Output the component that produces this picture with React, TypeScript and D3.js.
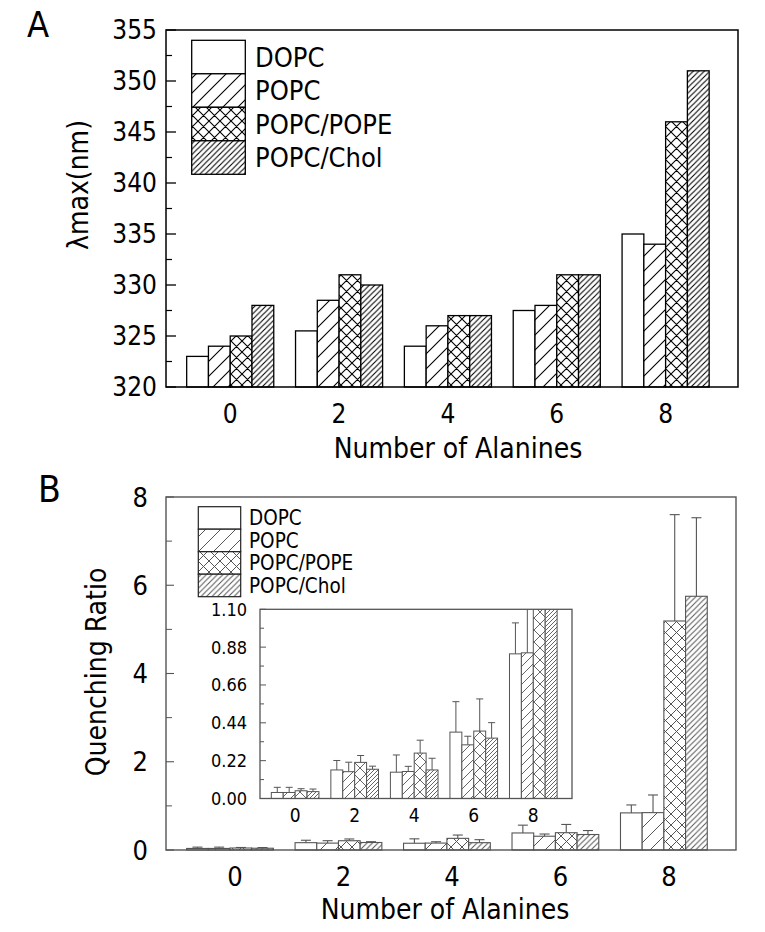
import React from 'react';
import * as d3 from 'd3';

const groups = [0, 2, 4, 6, 8];
const seriesNames = ['DOPC', 'POPC', 'POPC/POPE', 'POPC/Chol'];

// Panel A: lambda max (nm)
const lambdaDOPC = [323, 325.5, 324, 327.5, 335];
const lambdaPOPC = [324, 328.5, 326, 328, 334];
const lambdaPOPE = [325, 331, 327, 331, 346];
const lambdaChol = [328, 330, 327, 331, 351];
const lambdaTicks = [320, 325, 330, 335, 340, 345, 350, 355];

// Panel B: quenching ratio (value, upper error)
const qDOPC = [0.035, 0.166, 0.153, 0.386, 0.841];
const qPOPC = [0.035, 0.156, 0.157, 0.312, 0.847];
const qPOPE = [0.045, 0.21, 0.264, 0.392, 5.19];
const qChol = [0.04, 0.17, 0.166, 0.351, 5.75];
const eDOPC = [0.03, 0.055, 0.1, 0.177, 0.18];
const ePOPC = [0.03, 0.055, 0.03, 0.05, 0.4];
const ePOPE = [0.012, 0.04, 0.075, 0.187, 2.41];
const eChol = [0.015, 0.018, 0.068, 0.09, 1.78];
const qTicks = [0, 2, 4, 6, 8];
const insetTicks = [0, 0.22, 0.44, 0.66, 0.88, 1.1];

const lambdaSeries = [lambdaDOPC, lambdaPOPC, lambdaPOPE, lambdaChol];
const qSeries = [qDOPC, qPOPC, qPOPE, qChol];
const eSeries = [eDOPC, ePOPC, ePOPE, eChol];

const FONT = "'DejaVu Sans Condensed', 'DejaVu Sans', sans-serif";
const BAR = 0.4; // bar width in x units

const diag = (s: number) =>
  `M${-s / 2},${s / 2} L${s / 2},${-s / 2} M0,${s} L${s},0 M${s / 2},${s * 1.5} L${s * 1.5},${s / 2}`;
const anti = (s: number) =>
  `M${-s / 2},${s / 2} L${s / 2},${s * 1.5} M0,0 L${s},${s} M${s / 2},${-s / 2} L${s * 1.5},${s / 2}`;

function PatternSet({ id, color, sw, s1, s2, s3 }: any) {
  return (
    <>
      <pattern id={`${id}-0`} patternUnits="userSpaceOnUse" width={4} height={4}>
        <rect width={4} height={4} fill="white" />
      </pattern>
      <pattern id={`${id}-1`} patternUnits="userSpaceOnUse" width={s1} height={s1}>
        <rect width={s1} height={s1} fill="white" />
        <path d={diag(s1)} stroke={color} strokeWidth={sw} />
      </pattern>
      <pattern id={`${id}-2`} patternUnits="userSpaceOnUse" width={s2} height={s2}>
        <rect width={s2} height={s2} fill="white" />
        <path d={diag(s2) + anti(s2)} stroke={color} strokeWidth={sw} />
      </pattern>
      <pattern id={`${id}-3`} patternUnits="userSpaceOnUse" width={s3} height={s3}>
        <rect width={s3} height={s3} fill="white" />
        <path d={diag(s3)} stroke={color} strokeWidth={sw} />
      </pattern>
    </>
  );
}

export default function App() {
  // Panel A scales
  const xA = d3.scaleLinear().domain([-1.18, 9.33]).range([166, 738]);
  const yA = d3.scaleLinear().domain([320, 355]).range([387, 30]);
  // Panel B scales
  const xB = d3.scaleLinear().domain([-1.18, 9.33]).range([166, 736]);
  const yB = d3.scaleLinear().domain([0, 8]).range([850, 497]);
  // Inset scales
  const xI = d3.scaleLinear().domain([-1.18, 9.3]).range([260, 572]);
  const yI = d3.scaleLinear().domain([0, 1.1]).range([798.5, 609.3]);

  const lambdaMinor = d3.pairs(lambdaTicks).map(([a, b]) => (a + b) / 2);
  const qMinor = d3.pairs(qTicks).map(([a, b]) => (a + b) / 2);
  const insetMinor = d3.pairs(insetTicks).map(([a, b]) => (a + b) / 2);

  const gray = '#555';

  const barX = (g: number, i: number, sc: any) => sc(g - 2 * BAR + i * BAR);
  const barW = (sc: any) => sc(BAR) - sc(0);

  return (
    <svg
      width={765}
      height={932}
      style={{ position: 'absolute', left: 0, top: 0, background: 'white' }}
      fontFamily={FONT}
    >
      <defs>
        <PatternSet id="pa" color="#000" sw={1.1} s1={15} s2={11} s3={5.5} />
        <PatternSet id="pb" color={gray} sw={1} s1={15} s2={11} s3={5.5} />
        <PatternSet id="pi" color={gray} sw={0.9} s1={9} s2={12} s3={4} />
        <clipPath id="insetClip">
          <rect x={xI.range()[0]} y={yI.range()[1]} width={xI.range()[1] - xI.range()[0]} height={yI.range()[0] - yI.range()[1]} />
        </clipPath>
      </defs>
      <rect width={765} height={932} fill="white" />

      {/* ===== Panel A ===== */}
      <text x={27} y={37} fontSize={36}>A</text>
      {lambdaSeries.map((vals, i) =>
        groups.map((g, j) => (
          <rect
            key={`a${i}-${j}`}
            x={barX(g, i, xA)}
            y={yA(vals[j])}
            width={barW(xA)}
            height={yA(320) - yA(vals[j])}
            fill={`url(#pa-${i})`}
            stroke="#000"
            strokeWidth={1.3}
          />
        ))
      )}
      <rect x={166} y={30} width={738 - 166} height={387 - 30} fill="none" stroke="#000" strokeWidth={1.5} />
      {lambdaTicks.map((t) => (
        <g key={`at${t}`}>
          <line x1={166} x2={176} y1={yA(t)} y2={yA(t)} stroke="#000" strokeWidth={1.3} />
          <text x={157} y={yA(t)} dy="0.36em" textAnchor="end" fontSize={26}>{t}</text>
        </g>
      ))}
      {lambdaMinor.map((t) => (
        <line key={`am${t}`} x1={166} x2={172} y1={yA(t)} y2={yA(t)} stroke="#000" strokeWidth={1.2} />
      ))}
      {groups.map((g) => (
        <text key={`ax${g}`} x={xA(g)} y={423} textAnchor="middle" fontSize={26}>{g}</text>
      ))}
      <text x={458} y={458} textAnchor="middle" fontSize={28}>Number of Alanines</text>
      <text transform="translate(78,185) rotate(-90)" dy="0.35em" textAnchor="middle" fontSize={28}>λmax(nm)</text>
      {seriesNames.map((n, i) => (
        <g key={`la${i}`}>
          <rect x={191.7} y={40.3 + i * 33.5} width={53.6} height={33.5} fill={`url(#pa-${i})`} stroke="#000" strokeWidth={1.3} />
          <text x={255} y={40.3 + i * 33.5 + 16.75} dy="0.36em" fontSize={27}>{n}</text>
        </g>
      ))}

      {/* ===== Panel B ===== */}
      <text x={38} y={502} fontSize={37}>B</text>
      {qSeries.map((vals, i) =>
        groups.map((g, j) => {
          const x0 = barX(g, i, xB);
          const w = barW(xB);
          const cx = x0 + w / 2;
          const top = yB(vals[j]);
          const et = yB(vals[j] + eSeries[i][j]);
          return (
            <g key={`b${i}-${j}`}>
              <line x1={cx} x2={cx} y1={top} y2={et} stroke={gray} strokeWidth={1.1} />
              <line x1={cx - 5} x2={cx + 5} y1={et} y2={et} stroke={gray} strokeWidth={1.1} />
              <rect x={x0} y={top} width={w} height={yB(0) - top} fill={`url(#pb-${i})`} stroke={gray} strokeWidth={1.1} />
            </g>
          );
        })
      )}
      <rect x={166} y={497} width={736 - 166} height={850 - 497} fill="none" stroke={gray} strokeWidth={1.4} />
      {qTicks.map((t) => (
        <g key={`bt${t}`}>
          <line x1={166} x2={174} y1={yB(t)} y2={yB(t)} stroke={gray} strokeWidth={1.1} />
          <text x={148} y={yB(t)} dy="0.36em" textAnchor="end" fontSize={27}>{t}</text>
        </g>
      ))}
      {qMinor.map((t) => (
        <line key={`bm${t}`} x1={166} x2={172} y1={yB(t)} y2={yB(t)} stroke={gray} strokeWidth={1} />
      ))}
      {groups.map((g) => (
        <text key={`bx${g}`} x={xB(g) + 5} y={886} textAnchor="middle" fontSize={27}>{g}</text>
      ))}
      <text x={445} y={919} textAnchor="middle" fontSize={28}>Number of Alanines</text>
      <text transform="translate(96,672) rotate(-90)" dy="0.35em" textAnchor="middle" fontSize={28}>Quenching Ratio</text>

      {seriesNames.map((n, i) => (
        <g key={`lb${i}`}>
          <rect x={198.3} y={506.7 + i * 22.5} width={42.4} height={22.5} fill={`url(#pb-${i})`} stroke="#222" strokeWidth={1.2} />
          <text x={249} y={506.7 + i * 22.5 + 11.25} dy="0.36em" fontSize={20.5}>{n}</text>
        </g>
      ))}

      {/* inset */}
      <rect x={260} y={609.3} width={572 - 260} height={798.5 - 609.3} fill="white" />
      <g clipPath="url(#insetClip)">
        {qSeries.map((vals, i) =>
          groups.map((g, j) => {
            const x0 = barX(g, i, xI);
            const w = barW(xI);
            const cx = x0 + w / 2;
            const top = yI(vals[j]);
            const et = yI(vals[j] + eSeries[i][j]);
            return (
              <g key={`i${i}-${j}`}>
                <line x1={cx} x2={cx} y1={top} y2={et} stroke={gray} strokeWidth={1} />
                <line x1={cx - 3.5} x2={cx + 3.5} y1={et} y2={et} stroke={gray} strokeWidth={1} />
                <rect x={x0} y={top} width={w} height={yI(0) - top} fill={`url(#pi-${i})`} stroke={gray} strokeWidth={1} />
              </g>
            );
          })
        )}
      </g>
      <rect x={260} y={609.3} width={572 - 260} height={798.5 - 609.3} fill="none" stroke={gray} strokeWidth={1.3} />
      {insetTicks.map((t) => (
        <g key={`it${t}`}>
          <line x1={260} x2={266} y1={yI(t)} y2={yI(t)} stroke={gray} strokeWidth={1} />
          <text x={247} y={yI(t)} dy="0.36em" textAnchor="end" fontSize={18}>{d3.format('.2f')(t)}</text>
        </g>
      ))}
      {insetMinor.map((t) => (
        <line key={`im${t}`} x1={260} x2={264} y1={yI(t)} y2={yI(t)} stroke={gray} strokeWidth={1} />
      ))}
      {groups.map((g) => (
        <text key={`ix${g}`} x={xI(g)} y={822} textAnchor="middle" fontSize={19}>{g}</text>
      ))}
    </svg>
  );
}
